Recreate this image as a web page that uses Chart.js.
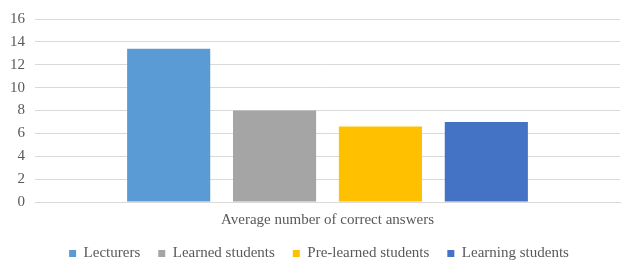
<!DOCTYPE html>
<html>
<head>
<meta charset="utf-8">
<script src="https://cdn.jsdelivr.net/npm/chart.js@4/dist/chart.umd.min.js"></script>
<style>
html,body{margin:0;padding:0;background:#fff;}
#wrap{width:625px;height:276px;position:relative;}
</style>
</head>
<body>
<div id="wrap"><canvas id="c" width="625" height="276"></canvas></div>
<script>
const categories = ['Average number of correct answers'];
const seriesNames = ['Lecturers', 'Learned students', 'Pre-learned students', 'Learning students'];
const lecturers = [13.4];
const learnedStudents = [8.0];
const preLearnedStudents = [6.6];
const learningStudents = [7.0];
const yTicks = [0, 2, 4, 6, 8, 10, 12, 14, 16];

const colors = ['#5b9bd5', '#a5a5a5', '#ffc000', '#4472c4'];
const values = [lecturers, learnedStudents, preLearnedStudents, learningStudents];

Chart.defaults.font.family = '"Liberation Serif", "Times New Roman", serif';
Chart.defaults.color = '#595959';

// Adjust the legend box: tighter vertical space, shifted slightly.
const legendTweak = {
  id: 'legendTweak',
  beforeLayout(chart) {
    const lg = chart.legend;
    if (lg && !lg._tweaked) {
      const f = lg.fit;
      lg.fit = function () { f.call(this); this.height -= 5; };
      lg._tweaked = true;
    }
  },
  afterLayout(chart) {
    const lg = chart.legend;
    if (!lg) return;
    lg.top -= 10; lg.bottom -= 10;
    lg.left += 9; lg.right += 9;
  }
};

new Chart(document.getElementById('c'), {
  type: 'bar',
  data: {
    labels: categories,
    datasets: seriesNames.map((n, i) => ({
      label: n,
      data: values[i],
      backgroundColor: colors[i],
      borderWidth: 0,
      categoryPercentage: 0.724,
      barPercentage: 0.785
    }))
  },
  plugins: [legendTweak],
  options: {
    responsive: false,
    animation: false,
    devicePixelRatio: 1,
    layout: { padding: { top: 10, left: 0, right: 5, bottom: 0 } },
    scales: {
      x: {
        grid: { display: false, drawTicks: false },
        border: { display: true, color: '#d9d9d9', width: 1 },
        ticks: { font: { size: 15 }, color: '#595959', padding: 9 }
      },
      y: {
        min: 0, max: 16,
        afterBuildTicks: (axis) => { axis.ticks = yTicks.map(v => ({ value: v })); },
        grid: { color: '#d9d9d9', lineWidth: 1, drawTicks: false },
        border: { display: false },
        ticks: { font: { size: 15 }, color: '#595959', padding: 10 }
      }
    },
    plugins: {
      legend: {
        position: 'bottom',
        labels: {
          boxWidth: 7, boxHeight: 7, padding: 18,
          font: { size: 15 }, color: '#595959'
        }
      },
      tooltip: { enabled: false }
    }
  }
});
</script>
</body>
</html>
